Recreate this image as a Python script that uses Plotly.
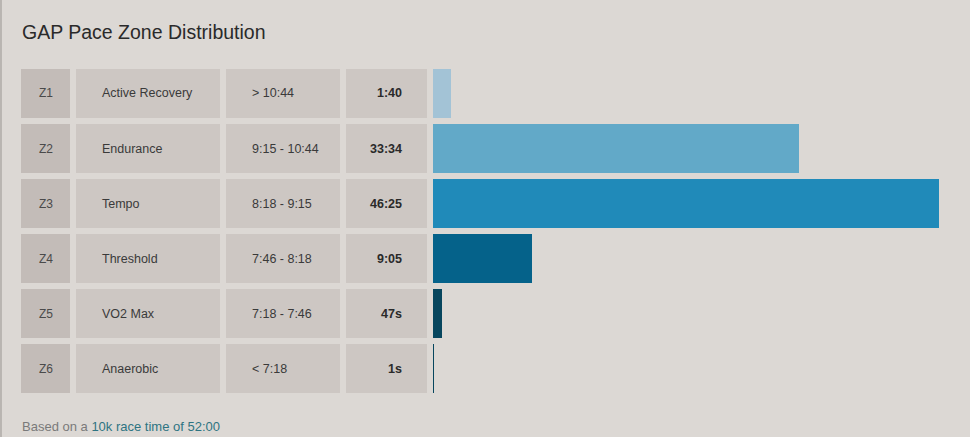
import plotly.graph_objects as go

# zone table data
zones = ["Z1", "Z2", "Z3", "Z4", "Z5", "Z6"]
zone_names = ["Active Recovery", "Endurance", "Tempo", "Threshold", "VO2 Max", "Anaerobic"]
pace_ranges = ["> 10:44", "9:15 - 10:44", "8:18 - 9:15", "7:46 - 8:18", "7:18 - 7:46", "< 7:18"]
time_labels = ["1:40", "33:34", "46:25", "9:05", "47s", "1s"]
time_seconds = [100, 2014, 2785, 545, 47, 1]
bar_colors = ["#a3c3d6", "#62a9c8", "#208ab9", "#05628a", "#07465e", "#07465e"]

W, H = 970, 437
BG = "#dcd8d4"
FONT = "Liberation Sans, Arial, sans-serif"


def px(x):
    return x / W


fig = go.Figure()

fig.add_trace(go.Bar(
    x=time_seconds,
    y=zones,
    orientation="h",
    marker=dict(color=bar_colors, line=dict(width=0)),
    width=0.89,
    hoverinfo="skip",
    showlegend=False,
))

# table columns: (left px, right px, fill)
columns = [
    (21, 70, "#c3bcb8"),
    (76, 220, "#cdc7c3"),
    (226, 340, "#cdc7c3"),
    (346, 427, "#cdc7c3"),
]

shapes = []
annotations = []
for i, z in enumerate(zones):
    for x0, x1, fill in columns:
        shapes.append(dict(
            type="rect", xref="paper", yref="y",
            x0=px(x0), x1=px(x1), y0=i - 0.445, y1=i + 0.445,
            fillcolor=fill, line=dict(width=0), layer="below",
        ))
    annotations.append(dict(
        x=px(46), y=z, xref="paper", yref="y", text=z, showarrow=False,
        xanchor="center", font=dict(size=12, color="#4a4a4a", family=FONT),
    ))
    annotations.append(dict(
        x=px(100), y=z, xref="paper", yref="y", text=zone_names[i], showarrow=False,
        xanchor="left", font=dict(size=12.5, color="#3a3a3a", family=FONT),
    ))
    annotations.append(dict(
        x=px(250), y=z, xref="paper", yref="y", text=pace_ranges[i], showarrow=False,
        xanchor="left", font=dict(size=12.5, color="#3a3a3a", family=FONT),
    ))
    annotations.append(dict(
        x=px(404), y=z, xref="paper", yref="y", text="<b>" + time_labels[i] + "</b>",
        showarrow=False, xanchor="right", font=dict(size=12.5, color="#2a2a2a", family=FONT),
    ))

# title and footer
annotations.append(dict(
    x=px(20), y=1 - 32 / H, xref="paper", yref="paper", text="GAP Pace Zone Distribution",
    showarrow=False, xanchor="left", yanchor="middle",
    font=dict(size=19.5, color="#2a2a2a", family=FONT),
))
annotations.append(dict(
    x=px(20), y=1 - 426 / H, xref="paper", yref="paper",
    text="<span style='color:#7a7a7a'>Based on a </span>10k race time of 52:00",
    showarrow=False, xanchor="left", yanchor="middle",
    font=dict(size=13, color="#2e7482", family=FONT),
))

# left border of the panel
shapes.append(dict(
    type="line", xref="paper", yref="paper", x0=0.001, x1=0.001, y0=0, y1=1,
    line=dict(color="#b9b5b1", width=2),
))

fig.update_layout(
    width=W, height=H,
    margin=dict(l=0, r=0, t=0, b=0),
    paper_bgcolor=BG, plot_bgcolor=BG,
    shapes=shapes, annotations=annotations,
    bargap=0,
)
fig.update_xaxes(
    domain=[px(433), px(939)], range=[0, max(time_seconds)],
    visible=False, showgrid=False, zeroline=False, fixedrange=True,
)
fig.update_yaxes(
    domain=[1 - 396 / H, 1 - 66 / H], range=[5.5, -0.5],
    visible=False, showgrid=False, zeroline=False, fixedrange=True,
)

fig.write_html(
    "out.html",
    config={"displayModeBar": False},
    post_script="document.body.style.margin='0';document.body.style.overflow='hidden';",
)
